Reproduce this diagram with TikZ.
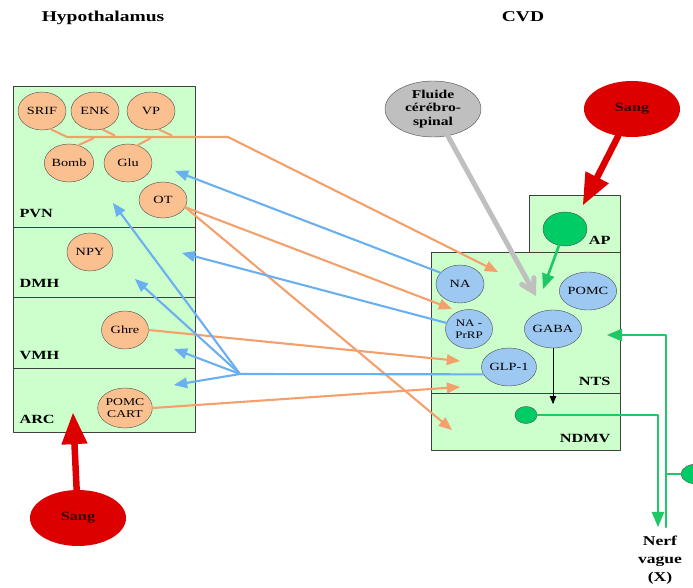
\documentclass[tikz,border=0pt]{standalone}
\usepackage{fontspec}
\setmainfont[FakeStretch=1.3]{Liberation Serif}
\usetikzlibrary{arrows,shapes.geometric}

\definecolor{zonegreen}{HTML}{CCFFCC}
\definecolor{hypofill}{HTML}{FAC090}
\definecolor{cvdfill}{HTML}{9CC8F2}
\definecolor{orline}{HTML}{F4A06C}
\definecolor{blline}{HTML}{6AB0F0}
\definecolor{vagreen}{HTML}{1FC766}
\definecolor{cellgreen}{HTML}{00CC66}
\definecolor{sangred}{HTML}{DD0000}
\definecolor{lcrgray}{HTML}{BFBFBF}

\begin{document}
\begin{tikzpicture}[x=1pt,y=-1pt,line cap=round,line join=round,>=triangle 45,
  zone/.style={draw=black!75,fill=zonegreen,line width=0.6pt},
  zonelbl/.style={font=\fontsize{12.5}{14}\selectfont\bfseries},
  hypo/.style={ellipse,draw=black!70,fill=hypofill,minimum width=48pt,minimum height=38pt,inner sep=0pt,font=\fontsize{11}{11}\selectfont,align=center},
  cvdn/.style={ellipse,draw=black!70,fill=cvdfill,minimum width=48pt,minimum height=38pt,inner sep=0pt,font=\fontsize{11}{11}\selectfont,align=center},
  orarr/.style={draw=orline,line width=2.1pt},
  blarr/.style={draw=blline,line width=2.1pt},
  vagarr/.style={draw=vagreen,line width=2.6pt},
  bigsang/.style={ellipse,fill=sangred,minimum width=96pt,minimum height=56pt,inner sep=0pt,font=\fontsize{12.5}{14}\selectfont\bfseries,text=black!80!red}]
\useasboundingbox (0,0) rectangle (693,588);
\clip (0,0) rectangle (693,588);

% titres
\node[font=\fontsize{15}{17}\selectfont\bfseries,anchor=base] (thyp) at (103,22) {Hypothalamus};
\node[font=\fontsize{15}{17}\selectfont\bfseries,anchor=base] (tcvd) at (523,22) {CVD};

% hypothalamus
\draw[zone] (13,86) rectangle (195,227);
\draw[zone] (13,227) rectangle (195,297);
\draw[zone] (13,297) rectangle (195,368);
\draw[zone] (13,368) rectangle (195,432);
\node[zonelbl,anchor=base west] (pvn) at (16,218) {PVN};
\node[zonelbl,anchor=base west] (dmh) at (16,287) {DMH};
\node[zonelbl,anchor=base west] (vmh) at (16,359) {VMH};
\node[zonelbl,anchor=base west] (arc) at (16,423) {ARC};

\node[hypo] (srif) at (42,111) {SRIF};
\node[hypo] (enk) at (95,111) {ENK};
\node[hypo] (vp) at (151,111) {VP};
\node[hypo] (bomb) at (69,163) {Bomb};
\node[hypo] (glu) at (128,163) {Glu};
\node[hypo,minimum height=36pt] (ot) at (163,200) {OT};
\node[hypo,minimum width=46pt] (npy) at (90,252) {NPY};
\node[hypo,minimum width=47pt] (ghre) at (125,330) {Ghre};
\node[hypo,minimum width=47pt,minimum height=40pt,font=\fontsize{10.5}{12}\selectfont] (pomccart) at (125,408) {POMC\\CART};

% CVD
\draw[zone] (529,195) rectangle (620,252);
\draw[zone] (431,252) rectangle (620,393);
\draw[zone] (431,393) rectangle (620,450);
\node[zonelbl,anchor=base east] (ap) at (614,244) {AP};
\node[zonelbl,anchor=base east] (nts) at (614,385) {NTS};
\node[zonelbl,anchor=base east] (ndmv) at (614,442) {NDMV};

\node[cvdn] (na) at (460,284) {NA};
\node[cvdn,minimum width=47pt,minimum height=39pt,font=\fontsize{10}{11.5}\selectfont] (naprrp) at (469,329) {NA -\\PrRP};
\node[cvdn] (gaba) at (553,329) {GABA};
\node[cvdn,minimum width=49pt] (pomc) at (588,291) {POMC};
\node[cvdn] (glp) at (509,367) {GLP-1};

\node[ellipse,draw=black!70,fill=cellgreen,minimum width=44pt,minimum height=34pt,inner sep=0pt] (apcell) at (565,229) {};
\node[ellipse,draw=black!70,fill=cellgreen,minimum width=22pt,minimum height=17pt,inner sep=0pt] (ndcell) at (526,415) {};
\node[ellipse,draw=black!70,fill=cellgreen,minimum width=32pt,minimum height=20pt,inner sep=0pt] (xcell) at (697,474) {};

\node[ellipse,draw=black!70,fill=lcrgray,minimum width=96pt,minimum height=56pt,inner sep=0pt,align=center,font=\fontsize{12}{13.5}\selectfont\bfseries] (lcr) at (433,109) {Fluide\\cérébro-\\spinal};
\node[bigsang] (sanghaut) at (632,109) {Sang};
\node[bigsang] (sangbas) at (78,518) {Sang};
\node[font=\fontsize{13.5}{18}\selectfont\bfseries,align=center,anchor=north] (nerf) at (660,532) {Nerf\\vague\\(X)};

% points d'arrivee
\coordinate (busw) at (67,137);
\coordinate (buse) at (228,137);
\coordinate (ntsa) at (498,272);
\coordinate (ntsb) at (452,309);
\coordinate (ntsc) at (460,361);
\coordinate (ntsd) at (460,387);
\coordinate (ndmva) at (452,430);
\coordinate (hub) at (240,374);
\coordinate (pvna) at (175,171);
\coordinate (pvnb) at (113,203);
\coordinate (dmha) at (182,253);
\coordinate (dmhb) at (135,279);
\coordinate (vmha) at (174,349);
\coordinate (arca) at (174,385);
\coordinate (lcrtip) at (536,296);
\coordinate (sangtip) at (583,205);
\coordinate (arctip) at (73,413);
\coordinate (aptip) at (543,289);
\coordinate (gabatip) at (553,404);
\coordinate (vagin) at (607,335);
\coordinate (vagup) at (666,335);
\coordinate (vagout) at (658,415);

% fleches orange
\draw[orarr] (srif.-65) -- (busw) -- (buse);
\draw[orarr] (enk.-68) -- ++(12,6);
\draw[orarr] (vp.-68) -- ++(13,6);
\draw[orarr] (bomb.62) -- ++(15,-7);
\draw[orarr] (glu.62) -- ++(13,-7);
\draw[orarr,->] (buse) -- (ntsa);
\draw[orarr,->] (ot.-18) -- (ntsb);
\draw[orarr,->] (ot.-18) -- (ndmva);
\draw[orarr,->] (ghre.east) -- (ntsc);
\draw[orarr,->] (pomccart.east) -- (ntsd);

% fleches bleues
\draw[blarr,->] (na.150) -- (pvna);
\draw[blarr,->] (naprrp.165) -- (dmha);
\draw[blarr] (glp.196) -- (hub);
\draw[blarr,->] (hub) -- (pvnb);
\draw[blarr,->] (hub) -- (dmhb);
\draw[blarr,->] (hub) -- (vmha);
\draw[blarr,->] (hub) -- (arca);

% fluide et sang
\draw[draw=lcrgray,line width=5pt,-angle 60] (lcr) -- (lcrtip);
\draw[draw=sangred,line width=6.5pt,-triangle 45] (sanghaut) -- (sangtip);
\draw[draw=sangred,line width=6.5pt,-triangle 45] (sangbas) -- (arctip);

% voies internes et nerf vague
\draw[vagarr,->] (apcell) -- (aptip);
\draw[black,line width=0.8pt,->] (gaba) -- (gabatip);
\draw[vagarr,->] (ndcell.east) -- (vagout) -- (658,527);
\draw[vagarr,->] (666,527) -- (vagup) -- (vagin);
\draw[vagarr] (666,474) -- (xcell.west);
\end{tikzpicture}
\end{document}
